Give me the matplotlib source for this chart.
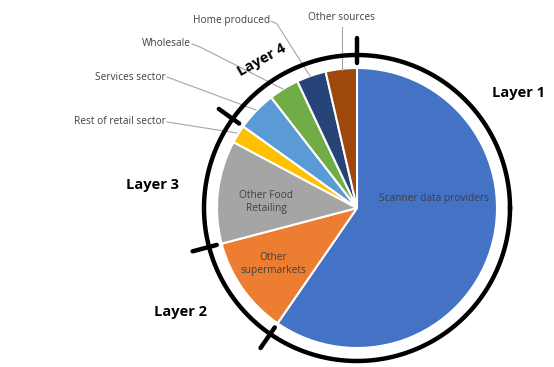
import numpy as np
import matplotlib
matplotlib.use("Agg")
import matplotlib.pyplot as plt

# Data (clockwise from 12 o'clock)
categories = ["Scanner data providers", "Other supermarkets", "Other Food Retailing",
              "Rest of retail sector", "Services sector", "Wholesale",
              "Home produced", "Other sources"]
shares = [59.6, 11.3, 11.9, 2.1, 4.6, 3.5, 3.4, 3.6]
colors = ["#4472C4", "#ED7D31", "#A5A5A5", "#FFC000", "#5B9BD5", "#70AD47",
          "#264478", "#9E480E"]
layer_names = ["Layer 1", "Layer 2", "Layer 3", "Layer 4"]
# index of the first slice of each layer
layer_starts = [0, 1, 2, 4]

W, H = 554, 367
fig = plt.figure(figsize=(W / 100, H / 100), dpi=100)
ax = fig.add_axes([0, 0, 1, 1])

cx, cy = 357, H - 208
R = 140
wedges, _ = ax.pie(shares, colors=colors, startangle=90, counterclock=False,
                   center=(cx, cy), radius=R, frame=True,
                   wedgeprops=dict(edgecolor="white", linewidth=1.5))
ax.set_xlim(0, W)
ax.set_ylim(0, H)
ax.set_aspect("equal")
ax.axis("off")

txt_col = "#404040"
font = ["Open Sans", "DejaVu Sans"]
fs = 7.3

# inner labels (pixel positions)
inner = [(0, "Scanner data providers", (434, 198)),
         (1, "Other\nsupermarkets", (273, 264)),
         (2, "Other Food\nRetailing", (266, 202))]
for i, lab, (x, y) in inner:
    ax.text(x, H - y, lab, ha="center", va="center", fontsize=fs, color=txt_col,
            family=font, linespacing=1.25)

# outer labels with leader lines
outer = {
    3: ("Rest of retail sector", (167, 122), (237, 133), None),
    4: ("Services sector", (167, 77), (256, 110), None),
    5: ("Wholesale", (192, 44), (283, 89), (200, 47)),
    6: ("Home produced", (271, 21), (310, 76), (277, 24)),
}
lc = "#A6A6A6"
for i, (lab, tp, ep, bend) in outer.items():
    ax.text(tp[0] - 1, H - tp[1], lab, ha="right", va="center", fontsize=fs,
            color=txt_col, family=font)
    xs = [tp[0]] + ([bend[0]] if bend else []) + [ep[0]]
    ys = [H - tp[1]] + ([H - bend[1]] if bend else []) + [H - ep[1]]
    ax.plot(xs, ys, color=lc, lw=0.8)
ax.text(342, H - 18, "Other sources", ha="center", va="center", fontsize=fs,
        color=txt_col, family=font)
ax.plot([342, 342], [H - 27, H - 70], color=lc, lw=0.8)

# outer ring
Rr = 153
t = np.linspace(0, 2 * np.pi, 400)
ax.plot(cx + Rr * np.cos(t), cy + Rr * np.sin(t), color="black", lw=3.2)
cum = np.concatenate([[0], np.cumsum(shares)]) / np.sum(shares)
for s in layer_starts:
    a = np.deg2rad(90 - 360 * cum[s])
    ax.plot([cx + 145 * np.cos(a), cx + 170 * np.cos(a)],
            [cy + 145 * np.sin(a), cy + 170 * np.sin(a)],
            color="black", lw=3.2, solid_capstyle="round")

# layer labels
lay_pos = [(518, 93, 0), (180, 312, 0), (152, 185, 0), (262, 60, 29)]
for name, (x, y, rot) in zip(layer_names, lay_pos):
    ax.text(x, H - y, name, ha="center", va="center", fontsize=10.5,
            fontweight="bold", color="black", family=font, rotation=rot)

fig.savefig("out.png", dpi=100)
